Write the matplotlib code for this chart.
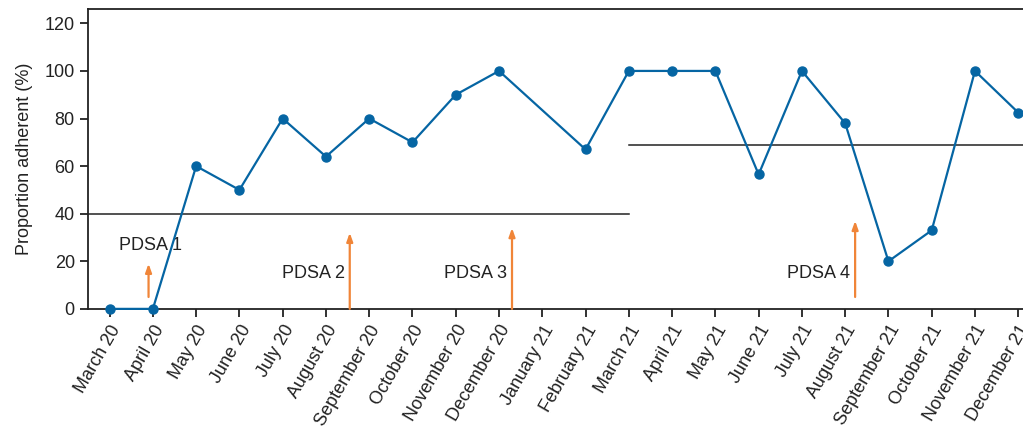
import numpy as np
import matplotlib.pyplot as plt

plt.rcParams['font.family'] = ['Liberation Sans', 'DejaVu Sans']

months = ['March 20', 'April 20', 'May 20', 'June 20', 'July 20', 'August 20',
          'September 20', 'October 20', 'November 20', 'December 20', 'January 21',
          'February 21', 'March 21', 'April 21', 'May 21', 'June 21', 'July 21',
          'August 21', 'September 21', 'October 21', 'November 21', 'December 21']
# no audit in January 21
adherence = [0, 0, 60, 50, 80, 64, 80, 70, 90, 100, None,
             67, 100, 100, 100, 56.5, 100, 78, 20, 33, 100, 82.5]

# medians: (start, end, value)
medians = [(-0.5, 12, 40), (12, 21.2, 69)]

# PDSA cycles: label, x position, arrow start, arrow tip, label y
pdsa_labels = ['PDSA 1', 'PDSA 2', 'PDSA 3', 'PDSA 4']
pdsa_x = [0.9, 5.55, 9.3, 17.23]
pdsa_from = [5, 0, 0, 5]
pdsa_to = [19, 32, 34, 37]
pdsa_text_y = [26.5, 15, 15, 15]

blue = '#0565a3'
orange = '#f08538'
fs = 13

fig = plt.figure(figsize=(10.23, 4.32), dpi=100)
ax = fig.add_axes([0.086, 0.285, 0.914, 0.694])

x = np.arange(len(months))
pts = [(i, v) for i, v in zip(x, adherence) if v is not None]
px, py = zip(*pts)
ax.plot(px, py, color=blue, lw=1.6, marker='o', ms=6.5, clip_on=False, zorder=4)

for x0, x1, m in medians:
    ax.plot([x0, x1], [m, m], color='#222222', lw=1.1, zorder=2)

for lab, ax_x, y0, y1, ty in zip(pdsa_labels, pdsa_x, pdsa_from, pdsa_to, pdsa_text_y):
    ax.annotate('', xy=(ax_x, y1), xytext=(ax_x, y0),
                arrowprops=dict(arrowstyle='-|>,head_length=0.5,head_width=0.18',
                                color=orange, lw=1.6, shrinkA=0, shrinkB=0))
    if lab == 'PDSA 1':
        ax.text(ax_x + 0.05, ty, lab, ha='center', va='center', fontsize=fs, color='#222222')
    else:
        ax.text(ax_x - 0.12, ty, lab, ha='right', va='center', fontsize=fs, color='#222222')

ax.set_xlim(-0.5, 21.11)
ax.set_ylim(0, 126)
ax.set_yticks(range(0, 121, 20))
ax.set_xticks(x)
ax.set_xticklabels(months, rotation=60, ha='right', rotation_mode='anchor', fontsize=fs)
ax.tick_params(axis='both', labelsize=fs, colors='#222222', width=1.3, length=6)
ax.set_ylabel('Proportion adherent (%)', fontsize=fs, color='#222222', labelpad=8)
ax.spines['right'].set_visible(False)
for s in ['left', 'bottom', 'top']:
    ax.spines[s].set_linewidth(1.3)
    ax.spines[s].set_color('#222222')

fig.savefig('out.png', dpi=100)
